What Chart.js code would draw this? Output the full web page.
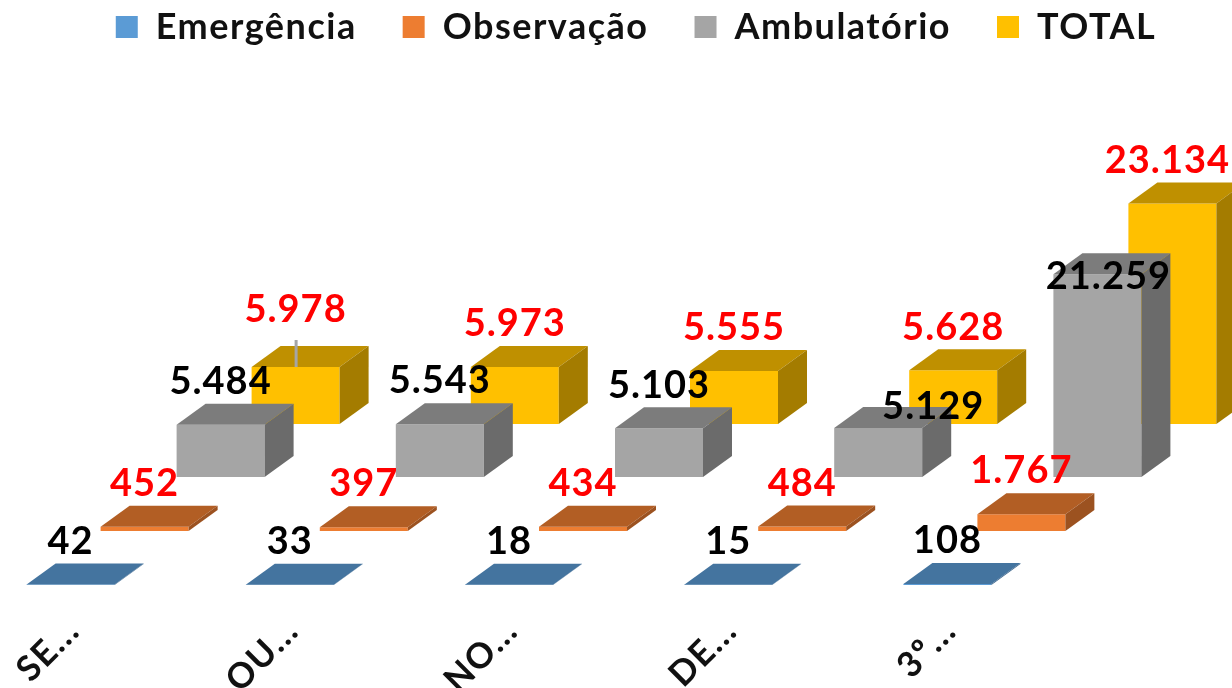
<!DOCTYPE html>
<html><head><meta charset="utf-8">
<style>html,body{margin:0;padding:0;background:#fff}#w{position:relative;width:1232px;height:688px;overflow:hidden}</style>
<script src="https://cdn.jsdelivr.net/npm/chart.js@4"></script></head>
<body><div id="w"><canvas id="c" width="1232" height="688"></canvas></div>
<script>
const categories = ['SE...', 'OU...', 'NO...', 'DE...', '3º...'];
const seriesNames = ['Emergência', 'Observação', 'Ambulatório', 'TOTAL'];
const emergencia = [42, 33, 18, 15, 108];
const observacao = [452, 397, 434, 484, 1767];
const ambulatorio = [5484, 5543, 5103, 5129, 21259];
const total = [5978, 5973, 5555, 5628, 23134];
const seriesValues = [emergencia, observacao, ambulatorio, total];

const frontColors = ['#5B9BD5', '#ED7D31', '#A5A5A5', '#FFC000'];
const topColors = ['#44749F', '#B25E24', '#7C7C7C', '#BF9000'];
const sideColors = ['#3B658C', '#9C5220', '#6B6B6B', '#A47C00'];
const labelColors = ['#000', '#F00', '#000', '#F00'];
const seriesShift = [[-79, 0], [-5, -54], [71, -108], [146, -161]];
const depth = [29, -21];
const labelGap = 43;
const labelNudge = {'3:0': [0, -14], '2:3': [55, 22], '2:4': [11, 45], '3:4': [-5, 0]};
const fmt = v => String(v).replace(/\B(?=(\d{3})+$)/g, '.');
const FONT = 'Lato, Carlito, sans-serif';

const bars3d = {
  id: 'bars3d',
  beforeInit(chart) {
    const lg = chart.legend, fit = lg.fit;
    lg.fit = function () { fit.call(this); this.height = 51; };
  },
  beforeLayout(chart) {
    chart.ctx.letterSpacing = '1.5px';
  },
  afterLayout(chart) {
    const lg = chart.legend;
    lg.top = 27 - lg.options.labels.padding - 18;
    lg.bottom = 60;
  },
  beforeDatasetDraw(chart, args) {
    const s = seriesShift[args.index];
    chart.ctx.save();
    chart.ctx.translate(s[0], s[1]);
  },
  afterDatasetDraw(chart, args) {
    const ctx = chart.ctx, i = args.index, [dx, dy] = depth;
    args.meta.data.forEach(b => {
      const l = b.x - b.width / 2, r = b.x + b.width / 2;
      ctx.fillStyle = topColors[i];
      ctx.beginPath();
      ctx.moveTo(l, b.y); ctx.lineTo(l + dx, b.y + dy); ctx.lineTo(r + dx, b.y + dy); ctx.lineTo(r, b.y);
      ctx.closePath(); ctx.fill();
      ctx.fillStyle = sideColors[i];
      ctx.beginPath();
      ctx.moveTo(r, b.y); ctx.lineTo(r + dx, b.y + dy); ctx.lineTo(r + dx, b.base + dy); ctx.lineTo(r, b.base);
      ctx.closePath(); ctx.fill();
    });
    ctx.restore();
  },
  afterDatasetsDraw(chart) {
    const ctx = chart.ctx;
    ctx.save();
    ctx.font = 'bold 38px ' + FONT;
    ctx.letterSpacing = '1px';
    ctx.textAlign = 'center';
    ctx.textBaseline = 'middle';
    for (let d = seriesValues.length - 1; d >= 0; d--) {
      chart.getDatasetMeta(d).data.forEach((b, k) => {
        const n = labelNudge[d + ':' + k] || [0, 0];
        const x = b.x + seriesShift[d][0], y = b.y + seriesShift[d][1];
        if (d === 3 && k === 0) {
          ctx.fillStyle = '#A5A5A5';
          ctx.fillRect(x - 1, y - 27, 3, 27);
        }
        ctx.fillStyle = labelColors[d];
        ctx.fillText(fmt(seriesValues[d][k]), x + n[0], y - labelGap + n[1]);
      });
    }
    ctx.restore();
  }
};

new Chart(document.getElementById('c'), {
  type: 'bar',
  data: {
    labels: categories,
    datasets: seriesNames.map((name, i) => ({
      label: name,
      data: seriesValues[i],
      backgroundColor: frontColors[i],
      borderWidth: 0,
      clip: false,
      grouped: false,
      barPercentage: 1,
      categoryPercentage: 88 / 219.2
    }))
  },
  options: {
    responsive: false,
    animation: false,
    layout: {padding: {left: 40, right: 0, top: 0, bottom: 0}},
    plugins: {
      tooltip: {enabled: false},
      legend: {
        position: 'top',
        labels: {
          boxWidth: 22, boxHeight: 22, padding: 46, color: '#111',
          font: {family: FONT, size: 36, weight: 'bold'}
        }
      }
    },
    scales: {
      x: {
        grid: {display: false},
        border: {display: false},
        ticks: {
          autoSkip: false, minRotation: 45, maxRotation: 45,
          labelOffset: -76, padding: 17, color: '#111',
          font: {family: FONT, size: 35, weight: 'bold'}
        },
        afterFit(s) { s.height = 103; }
      },
      y: {
        position: 'right', min: 0, max: 56000,
        grid: {display: false},
        border: {display: false},
        ticks: {display: false},
        afterFit(s) { s.width = 96; }
      }
    }
  },
  plugins: [bars3d]
});
</script></body></html>
